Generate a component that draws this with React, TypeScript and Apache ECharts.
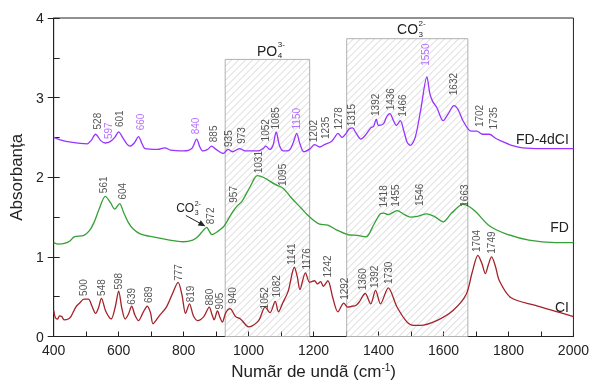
import React, { useEffect, useRef } from "react";
import * as echarts from "echarts";

const xTicks = [400, 600, 800, 1000, 1200, 1400, 1600, 1800, 2000];
const yTicks = [0, 1, 2, 3, 4];

const ciValues: [number, number][] = [
  [400, 0.33], [405, 0.24], [412, 0.22], [418, 0.26], [425, 0.25], [432, 0.21], [445, 0.22], [453, 0.25],
  [468, 0.37], [480, 0.42], [493, 0.47], [507, 0.47], [518, 0.38], [529, 0.29], [538, 0.36], [547, 0.48],
  [560, 0.32], [577, 0.22], [590, 0.38], [600, 0.57], [610, 0.35], [620, 0.22], [630, 0.28], [640, 0.38],
  [650, 0.27], [661, 0.2], [675, 0.3], [688, 0.38], [698, 0.3], [706, 0.16], [725, 0.26], [747, 0.37],
  [765, 0.53], [783, 0.68], [795, 0.52], [806, 0.29], [818, 0.41], [830, 0.26], [843, 0.2], [862, 0.25],
  [879, 0.37], [887, 0.28], [894, 0.21], [904, 0.32], [912, 0.24], [919, 0.18], [930, 0.3], [943, 0.35],
  [960, 0.25], [975, 0.22], [1001, 0.12], [1031, 0.2], [1051, 0.37], [1066, 0.3], [1082, 0.44], [1092, 0.31],
  [1105, 0.42], [1122, 0.57], [1141, 0.87], [1150, 0.75], [1158, 0.59], [1175, 0.8], [1188, 0.68], [1203, 0.7],
  [1212, 0.66], [1222, 0.69], [1230, 0.63], [1244, 0.7], [1259, 0.49], [1275, 0.31], [1293, 0.42], [1305, 0.37],
  [1318, 0.38], [1330, 0.39], [1340, 0.43], [1359, 0.54], [1376, 0.41], [1391, 0.58], [1406, 0.41], [1430, 0.61],
  [1457, 0.37], [1488, 0.18], [1508, 0.14], [1528, 0.14], [1579, 0.2], [1630, 0.33], [1670, 0.53], [1688, 0.8],
  [1706, 1.02], [1718, 0.92], [1729, 0.79], [1738, 0.9], [1748, 1.0], [1760, 0.88], [1772, 0.7], [1807, 0.49],
  [1883, 0.39], [2000, 0.25],
];

const fdValues: [number, number][] = [
  [400, 1.18], [415, 1.16], [433, 1.17], [450, 1.2], [463, 1.25], [493, 1.27], [510, 1.33], [524, 1.43],
  [540, 1.6], [559, 1.76], [575, 1.68], [588, 1.6], [603, 1.67], [615, 1.56], [630, 1.43], [645, 1.35],
  [666, 1.29], [706, 1.25], [757, 1.21], [798, 1.19], [828, 1.21], [845, 1.26], [860, 1.33], [871, 1.37],
  [878, 1.33], [887, 1.28], [905, 1.32], [925, 1.39], [950, 1.56], [965, 1.64], [980, 1.7], [1006, 1.89],
  [1027, 2.02], [1045, 2.0], [1082, 1.91], [1107, 1.86], [1132, 1.74], [1160, 1.62], [1183, 1.52], [1219, 1.41],
  [1244, 1.4], [1270, 1.34], [1305, 1.28], [1335, 1.27], [1361, 1.25], [1386, 1.41], [1405, 1.54], [1416, 1.55],
  [1430, 1.53], [1457, 1.58], [1480, 1.53], [1498, 1.5], [1520, 1.51], [1549, 1.54], [1575, 1.5], [1599, 1.44],
  [1625, 1.55], [1660, 1.66], [1680, 1.63], [1701, 1.56], [1741, 1.39], [1792, 1.29], [1863, 1.21], [1944, 1.18],
  [2000, 1.18],
];

const fd4Values: [number, number][] = [
  [400, 2.5], [420, 2.47], [453, 2.44], [503, 2.42], [515, 2.46], [529, 2.54], [545, 2.46], [559, 2.43],
  [575, 2.45], [588, 2.5], [600, 2.57], [612, 2.5], [625, 2.42], [635, 2.39], [648, 2.43], [661, 2.51],
  [672, 2.42], [681, 2.36], [720, 2.35], [742, 2.37], [760, 2.34], [800, 2.33], [825, 2.36], [840, 2.48],
  [850, 2.38], [859, 2.33], [874, 2.35], [886, 2.39], [900, 2.35], [922, 2.3], [937, 2.35], [950, 2.32],
  [972, 2.36], [990, 2.33], [1030, 2.33], [1045, 2.36], [1053, 2.39], [1065, 2.35], [1075, 2.4], [1085, 2.57],
  [1095, 2.4], [1107, 2.33], [1125, 2.34], [1138, 2.44], [1148, 2.55], [1158, 2.42], [1170, 2.32], [1190, 2.36],
  [1203, 2.41], [1219, 2.38], [1234, 2.41], [1255, 2.45], [1265, 2.5], [1275, 2.55], [1288, 2.5], [1300, 2.55],
  [1310, 2.61], [1320, 2.62], [1330, 2.56], [1346, 2.48], [1360, 2.53], [1376, 2.62], [1385, 2.64], [1393, 2.73],
  [1400, 2.65], [1415, 2.67], [1425, 2.76], [1435, 2.8], [1445, 2.72], [1455, 2.65], [1467, 2.71], [1478, 2.58],
  [1488, 2.44], [1498, 2.4], [1513, 2.5], [1530, 2.85], [1549, 3.26], [1558, 3.05], [1567, 2.95], [1580, 2.87],
  [1599, 2.71], [1615, 2.8], [1632, 2.9], [1645, 2.85], [1660, 2.71], [1685, 2.58], [1703, 2.58], [1720, 2.54],
  [1741, 2.54], [1760, 2.49], [1781, 2.45], [1810, 2.4], [1843, 2.37], [1902, 2.36], [2000, 2.36],
];

// [x, y of label start, text, highlighted]
const fd4Labels: [number, number, string, boolean][] = [
  [536, 2.6, "528", false], [570, 2.48, "597", true], [602, 2.63, "601", false], [666, 2.59, "660", true],
  [836, 2.54, "840", true], [892, 2.44, "885", false], [937, 2.38, "935", false], [977, 2.42, "973", false],
  [1051, 2.45, "1052", false], [1084, 2.6, "1085", false], [1149, 2.6, "1150", true], [1200, 2.44, "1202", false],
  [1236, 2.48, "1235", false], [1278, 2.6, "1278", false], [1318, 2.64, "1315", false], [1391, 2.77, "1392", false],
  [1437, 2.84, "1436", false], [1474, 2.76, "1466", false], [1546, 3.4, "1550", true], [1632, 3.03, "1632", false],
  [1711, 2.63, "1702", false], [1753, 2.6, "1735", false],
];
const fdLabels: [number, number, string][] = [
  [552, 1.8, "561"], [613, 1.72, "604"], [882, 1.41, "872"], [955, 1.68, "957"], [1029, 2.05, "1031"],
  [1105, 1.89, "1095"], [1415, 1.62, "1418"], [1452, 1.63, "1455"], [1526, 1.64, "1546"], [1665, 1.63, "1663"],
];
const ciLabels: [number, number, string][] = [
  [493, 0.51, "500"], [546, 0.51, "548"], [600, 0.59, "598"], [639, 0.4, "639"], [691, 0.42, "689"],
  [785, 0.7, "777"], [820, 0.43, "819"], [881, 0.39, "880"], [909, 0.34, "905"], [950, 0.41, "940"],
  [1048, 0.34, "1052"], [1087, 0.49, "1082"], [1132, 0.9, "1141"], [1178, 0.84, "1176"], [1244, 0.74, "1242"],
  [1295, 0.46, "1292"], [1351, 0.58, "1360"], [1388, 0.61, "1392"], [1432, 0.66, "1730"], [1701, 1.06, "1704"],
  [1749, 1.04, "1749"],
];

// [x start, x end, top]
const regionBoxes: [number, number, number][] = [
  [928, 1188, 3.48],
  [1302, 1675, 3.74],
];

const seriesNames = ["CI", "FD", "FD-4dCI"];
const seriesNamePos: [number, number][] = [[1986, 0.37], [1986, 1.37], [1986, 2.48]];

const PURPLE = "#9933ff";
const GREEN = "#35a035";
const RED = "#a3222a";
const FONT = "Liberation Sans, Arial, sans-serif";

export default function App() {
  const ref = useRef<HTMLDivElement>(null);
  useEffect(() => {
    const chart = echarts.init(ref.current!, null, { renderer: "svg" });

    const labelItem = (x: number, y: number, text: string, color: string) => ({
      value: [x, y],
      label: { formatter: text, color },
    });

    const labelData = [
      ...fd4Labels.map((l) => labelItem(l[0], l[1], l[2], l[3] ? "#a24dff" : "#2a2a2a")),
      ...fdLabels.map((l) => labelItem(l[0], l[1], l[2], "#2a2a2a")),
      ...ciLabels.map((l) => labelItem(l[0], l[1], l[2], "#2a2a2a")),
    ];

    chart.setOption({
      animation: false,
      textStyle: { fontFamily: FONT },
      grid: { left: 49, right: 17, top: 18, bottom: 42, show: true, borderColor: "#222", borderWidth: 1 },
      xAxis: {
        type: "value",
        min: 400,
        max: 2000,
        interval: 100,
        axisLine: { lineStyle: { color: "#222" } },
        axisTick: { inside: true, length: 5, lineStyle: { color: "#222" } },
        splitLine: { show: false },
        axisLabel: {
          fontSize: 14,
          color: "#222",
          margin: 6,
          formatter: (v: number) => (xTicks.includes(v) ? String(v) : ""),
        },
        name: "Numãr de undã (cm{sup|-1})",
        nameLocation: "middle",
        nameGap: 26,
        nameTextStyle: {
          fontSize: 17,
          color: "#222",
          rich: { sup: { fontSize: 10, verticalAlign: "top", padding: [0, 0, 8, 0] } },
        },
      },
      yAxis: [
        {
          type: "value",
          min: 0,
          max: 4,
          interval: 0.5,
          axisLine: { show: true, lineStyle: { color: "#222" } },
          axisTick: { show: true, inside: true, length: 6, lineStyle: { color: "#222" } },
          splitLine: { show: false },
          axisLabel: {
            fontSize: 14,
            color: "#222",
            margin: 10,
            formatter: (v: number) => (yTicks.includes(v) ? String(v) : ""),
          },
          name: "Absorbanța",
          nameLocation: "middle",
          nameGap: 22,
          nameTextStyle: { fontSize: 17, color: "#222" },
        },
        {
          type: "value",
          min: 0,
          max: 4,
          interval: 1,
          position: "left",
          axisLine: { show: false },
          axisTick: { show: true, inside: false, length: 6, lineStyle: { color: "#222" } },
          axisLabel: { show: false },
          splitLine: { show: false },
        },
      ],
      series: [
        {
          type: "custom",
          silent: true,
          z: 1,
          data: regionBoxes,
          encode: { x: [0, 1], y: 2 },
          renderItem: (params: any, api: any) => {
            const x0 = api.value(0);
            const x1 = api.value(1);
            const top = api.value(2);
            const pTL = api.coord([x0, top]);
            const pBR = api.coord([x1, 0]);
            const left = pTL[0];
            const tp = pTL[1];
            const right = pBR[0];
            const bottom = pBR[1];
            const children: any[] = [];
            const step = 7;
            for (let c = left + tp + step; c < right + bottom; c += step) {
              const xa = Math.max(left, c - bottom);
              const xb = Math.min(right, c - tp);
              if (xb <= xa) continue;
              children.push({
                type: "line",
                shape: { x1: xa, y1: c - xa, x2: xb, y2: c - xb },
                style: { stroke: "#c9c9c9", lineWidth: 0.8 },
              });
            }
            children.push({
              type: "rect",
              shape: { x: left, y: tp, width: right - left, height: bottom - tp },
              style: { fill: "none", stroke: "#b0b0b0", lineWidth: 1 },
            });
            return { type: "group", children };
          },
        },
        {
          name: "CI",
          type: "line",
          data: ciValues,
          showSymbol: false,
          smooth: 0.3,
          z: 3,
          lineStyle: { color: RED, width: 1.3 },
        },
        {
          name: "FD",
          type: "line",
          data: fdValues,
          showSymbol: false,
          smooth: 0.3,
          z: 3,
          lineStyle: { color: GREEN, width: 1.3 },
        },
        {
          name: "FD-4dCI",
          type: "line",
          data: fd4Values,
          showSymbol: false,
          smooth: 0.3,
          z: 3,
          lineStyle: { color: PURPLE, width: 1.3 },
        },
        {
          type: "scatter",
          silent: true,
          symbolSize: 0,
          z: 5,
          data: labelData,
          label: {
            show: true,
            position: [0, 0],
            rotate: 90,
            align: "left",
            verticalAlign: "middle",
            fontSize: 10,
            fontFamily: FONT,
          },
        },
      ],
    });

    const px = (x: number, y: number) => chart.convertToPixel({ gridIndex: 0 }, [x, y]) as number[];

    const ionText = (x: number, y: number, base: string, sub: string, sup: string, size: number) => {
      const p = px(x, y);
      const w = echarts.format.getTextRect
        ? (echarts.format as any).getTextRect(base, `${size}px ${FONT}`).width
        : base.length * size * 0.7;
      const small = Math.round(size * 0.6);
      return [
        { type: "text", x: p[0], y: p[1], style: { text: base, font: `${size}px ${FONT}`, fill: "#222", verticalAlign: "middle" } },
        { type: "text", x: p[0] + w + 0.5, y: p[1] - size * 0.42, style: { text: sup, font: `${small}px ${FONT}`, fill: "#222", verticalAlign: "middle" } },
        { type: "text", x: p[0] + w + 0.5, y: p[1] + size * 0.38, style: { text: sub, font: `${small}px ${FONT}`, fill: "#222", verticalAlign: "middle" } },
      ];
    };

    const a0 = px(807, 1.52);
    const a1 = px(867, 1.385);
    const ang = Math.atan2(a1[1] - a0[1], a1[0] - a0[0]);
    const hl = 7;
    const hw = 3;
    const head = [
      [a1[0], a1[1]],
      [a1[0] - hl * Math.cos(ang) + hw * Math.sin(ang), a1[1] - hl * Math.sin(ang) - hw * Math.cos(ang)],
      [a1[0] - hl * Math.cos(ang) - hw * Math.sin(ang), a1[1] - hl * Math.sin(ang) + hw * Math.cos(ang)],
    ];

    const nameTexts = seriesNames.map((n, i) => {
      const p = px(seriesNamePos[i][0], seriesNamePos[i][1]);
      return {
        type: "text",
        x: p[0],
        y: p[1],
        style: { text: n, font: `14px ${FONT}`, fill: "#222", align: "right", verticalAlign: "middle" },
      };
    });

    chart.setOption({
      graphic: [
        ...ionText(1026, 3.59, "PO", "4", "3-", 14),
        ...ionText(1457, 3.86, "CO", "3", "2-", 14),
        ...ionText(777, 1.61, "CO", "3", "2-", 12),
        {
          type: "line",
          shape: { x1: a0[0], y1: a0[1], x2: a1[0] - 5 * Math.cos(ang), y2: a1[1] - 5 * Math.sin(ang) },
          style: { stroke: "#222", lineWidth: 1 },
        },
        { type: "polygon", shape: { points: head }, style: { fill: "#222" } },
        ...nameTexts,
      ],
    });

    return () => chart.dispose();
  }, []);
  return <div ref={ref} style={{ position: "fixed", left: 0, top: 0, width: 592, height: 385 }} />;
}
